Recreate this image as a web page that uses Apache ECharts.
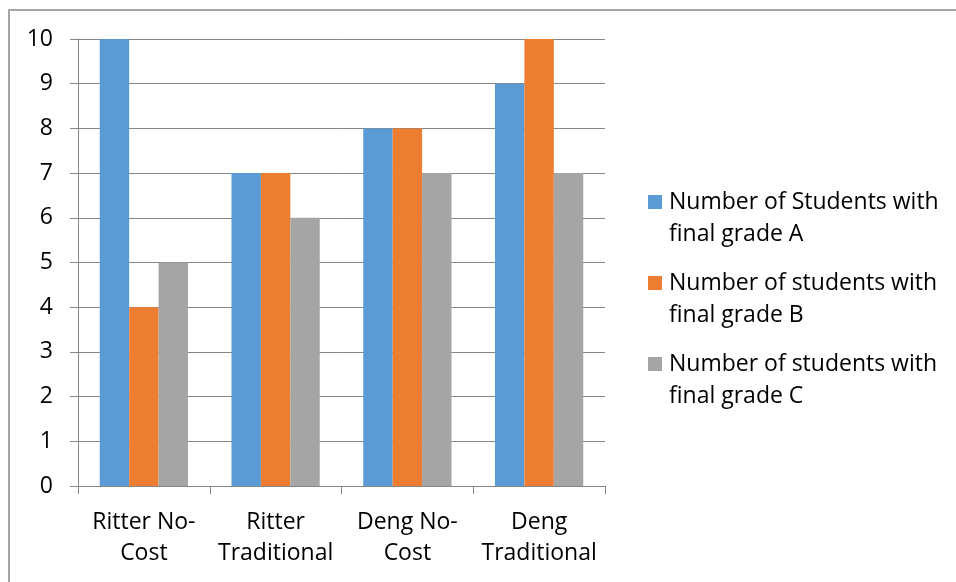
<!DOCTYPE html>
<html>
<head>
<meta charset="utf-8">
<script src="https://cdn.jsdelivr.net/npm/echarts@6/dist/echarts.min.js"></script>
<style>
  html, body { margin: 0; padding: 0; background: #fff; }
  #chart { width: 956px; height: 582px; }
</style>
</head>
<body>
<div id="chart"></div>
<script>
// Course sections (axis labels, wrapped onto two lines)
const categories = ['Ritter No-\nCost', 'Ritter\nTraditional', 'Deng No-\nCost', 'Deng\nTraditional'];

// Student counts per final grade
const gradeA = [10, 7, 8, 9];
const gradeB = [4, 7, 8, 10];
const gradeC = [5, 6, 7, 7];

const seriesNames = [
  'Number of Students with\nfinal grade A',
  'Number of students with\nfinal grade B',
  'Number of students with\nfinal grade C'
];
const seriesColors = ['#5B9BD5', '#ED7D31', '#A5A5A5'];

const FONT = '"Open Sans", "Noto Sans", sans-serif';

// Square legend marker sitting at the top of a taller box, so it lines up
// with the first line of the two-line legend text.
const LEGEND_ICON = 'path://M0,0L14,0L14,14L0,14Z M0,46L0,46';

const chart = echarts.init(document.getElementById('chart'), null, { renderer: 'canvas' });

const option = {
  backgroundColor: '#ffffff',
  animation: false,
  textStyle: { fontFamily: FONT },
  graphic: [{
    type: 'rect',
    shape: { x: 9, y: 10, width: 1200, height: 1200 },
    style: { fill: 'none', stroke: '#a6a6a6', lineWidth: 2 },
    silent: true
  }],
  grid: { left: 78, right: 351, top: 39, bottom: 96, containLabel: false },
  legend: {
    orient: 'vertical',
    left: 648,
    top: 186,
    padding: 0,
    itemGap: 17,
    itemWidth: 14,
    itemHeight: 46,
    icon: LEGEND_ICON,
    data: seriesNames,
    textStyle: {
      fontFamily: FONT,
      fontSize: 23,
      color: '#000',
      lineHeight: 32,
      padding: [0, 0, 0, 2]
    }
  },
  xAxis: {
    type: 'category',
    data: categories,
    axisLine: { show: true, lineStyle: { color: '#868686', width: 1 } },
    axisTick: { show: true, alignWithLabel: false, length: 8, lineStyle: { color: '#868686' } },
    axisLabel: {
      color: '#000',
      fontFamily: FONT,
      fontSize: 23,
      lineHeight: 31,
      margin: 21,
      interval: 0
    },
    splitLine: { show: false }
  },
  yAxis: {
    type: 'value',
    min: 0,
    max: 10,
    interval: 1,
    axisLine: { show: true, lineStyle: { color: '#868686', width: 1 } },
    axisTick: { show: true, length: 8, lineStyle: { color: '#868686' } },
    axisLabel: {
      color: '#000',
      fontFamily: FONT,
      fontSize: 23,
      margin: 25
    },
    splitLine: { show: true, lineStyle: { color: '#868686', width: 1 } }
  },
  series: [gradeA, gradeB, gradeC].map((vals, i) => ({
    name: seriesNames[i],
    type: 'bar',
    data: vals,
    barGap: '0%',
    barCategoryGap: '33%',
    itemStyle: { color: seriesColors[i] }
  }))
};

chart.setOption(option);
</script>
</body>
</html>
